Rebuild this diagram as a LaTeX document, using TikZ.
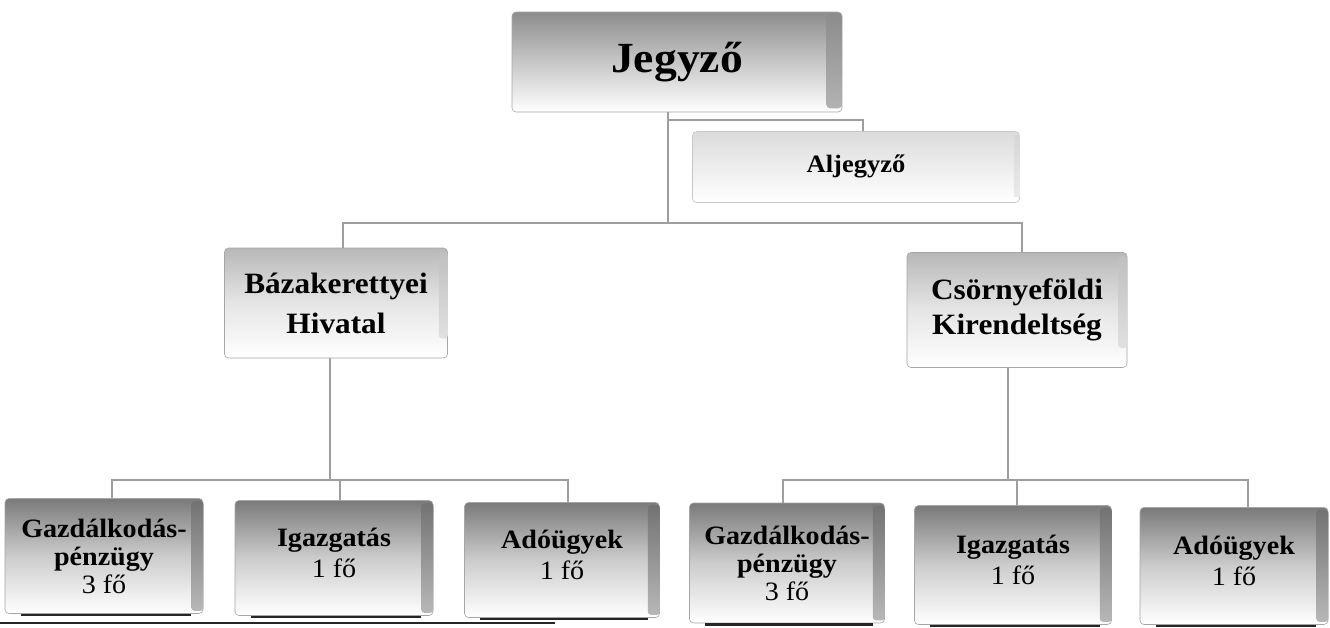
\documentclass[tikz,border=0pt]{standalone}
\usepackage{fontspec}
\setmainfont{Liberation Serif}[FakeStretch=1.06]
\begin{document}
\begin{tikzpicture}[x=1pt,y=-1pt,
  conn/.style={draw=black!38, line width=2pt},
  basebox/.style={rectangle, rounded corners=4pt, inner sep=0pt, align=center, draw=black!35, line width=0.6pt},
  subbox/.style={basebox, top color=black!52, bottom color=white, middle color=black!20,
     minimum height=115pt, font=\fontsize{26.5}{28}\selectfont\bfseries},
  midbox/.style={basebox, top color=black!28, bottom color=white, middle color=black!10,
     font=\fontsize{29.5}{40}\selectfont\bfseries},
  topbox/.style={basebox, top color=black!45, bottom color=white, middle color=black!22,
     font=\fontsize{43}{48}\selectfont\bfseries},
  asbox/.style={basebox, draw=black!22, top color=black!14, bottom color=white,
     font=\fontsize{25}{28}\selectfont\bfseries},
  reg/.style={font=\fontsize{25}{28}\selectfont\mdseries}
]
\useasboundingbox (0,0) rectangle (1330,627);
\fill[white] (0,0) rectangle (1330,627);

% ---- boxes ----
\node[topbox, minimum width=330pt, minimum height=100pt] (J) at (677,62) {Jegyző};
\node[asbox, minimum width=327pt, minimum height=71pt] (A) at (856,167) {\raisebox{6pt}{Aljegyző}};
\node[midbox, minimum width=223pt, minimum height=110pt] (B) at (336,303) {Bázakerettyei\\Hivatal};
\node[midbox, minimum width=220pt, minimum height=115pt, font=\fontsize{29.5}{35}\selectfont\bfseries] (C) at (1017,310) {Csörnyeföldi\\Kirendeltség};

\node[subbox, minimum width=198pt] (b1) at (104,556) {Gazdálkodás-\\pénzügy\\{\mdseries 3 fő}};
\node[subbox, minimum width=198pt] (b2) at (334,558) {\raisebox{10pt}{\shortstack{Igazgatás\\[4pt]{\mdseries 1 fő}}}};
\node[subbox, minimum width=195pt] (b3) at (562,560) {\raisebox{10pt}{\shortstack{Adóügyek\\[4pt]{\mdseries 1 fő}}}};
\node[subbox, minimum width=195pt, minimum height=120pt] (b4) at (787,563) {Gazdálkodás-\\pénzügy\\{\mdseries 3 fő}};
\node[subbox, minimum width=197pt, minimum height=119pt] (b5) at (1013,565) {\raisebox{10pt}{\shortstack{Igazgatás\\[4pt]{\mdseries 1 fő}}}};
\node[subbox, minimum width=188pt, minimum height=117pt] (b6) at (1234,566) {\raisebox{10pt}{\shortstack{Adóügyek\\[4pt]{\mdseries 1 fő}}}};

% ---- 3D right sides ----
\foreach \n in {b1,b2,b3,b4,b5,b6}{
  \shade[top color=black!55, bottom color=black!28, rounded corners=3pt]
    ([xshift=-12pt,yshift=-3pt]\n.north east) rectangle ([yshift=3pt]\n.south east);
  \draw[black!85, line width=2.4pt] ([xshift=16pt,yshift=-1pt]\n.south west) -- ([xshift=-12pt,yshift=-1pt]\n.south east);
}
\foreach \n in {B,C}{
  \shade[top color=black!25, bottom color=black!12, rounded corners=3pt]
    ([xshift=-9pt,yshift=-4pt]\n.north east) rectangle ([yshift=20pt]\n.south east);
}
\shade[top color=black!45, bottom color=black!30, rounded corners=4pt]
  ([xshift=-16pt,yshift=-3pt]J.north east) rectangle ([yshift=4pt]J.south east);
\shade[top color=black!16, bottom color=black!8]
  ([xshift=-6pt,yshift=-4pt]A.north east) rectangle ([yshift=6pt]A.south east);

% ---- connectors ----
\coordinate (top) at (668,223);
\coordinate (asst) at (668,120);
\coordinate (lbar) at (330,480);
\coordinate (rbar) at (1008,480);

\draw[conn] (J.south -| top) -- (top);
\draw[conn] (asst) -| ([xshift=7pt]A.north);
\draw[conn] (top) -| ([xshift=7pt]B.north);
\draw[conn] (top) -| ([xshift=5pt]C.north);
\draw[conn] (B.south -| lbar) -- (lbar);
\draw[conn] (lbar) -| ([xshift=8pt]b1.north);
\draw[conn] (lbar) -| ([xshift=6pt]b2.north);
\draw[conn] (lbar) -| ([xshift=6pt]b3.north);
\draw[conn] (C.south -| rbar) -- (rbar);
\draw[conn] (rbar) -| ([xshift=-4pt]b4.north);
\draw[conn] (rbar) -| ([xshift=4pt]b5.north);
\draw[conn] (rbar) -| ([xshift=14pt]b6.north);

% ---- page rule at the bottom ----
\draw[black!85, line width=1.6pt] (0,623) -- (555,623);
\end{tikzpicture}
\end{document}
